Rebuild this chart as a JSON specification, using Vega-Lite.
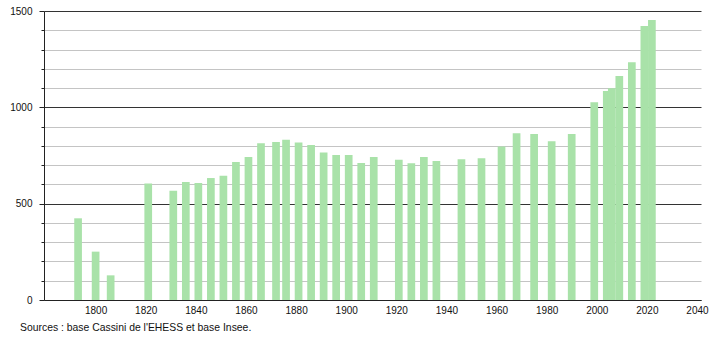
{
  "$schema": "https://vega.github.io/schema/vega-lite/v6.json",
  "width": 657,
  "height": 289,
  "autosize": {"type": "none"},
  "padding": {"left": 44, "top": 11, "right": 9, "bottom": 40},
  "background": "white",
  "config": {
    "view": {"stroke": null},
    "font": "Liberation Sans"
  },
  "title": {
    "text": "Sources : base Cassini de l'EHESS et base Insee.",
    "orient": "bottom",
    "anchor": "start",
    "frame": "group",
    "dx": -24,
    "offset": 8,
    "fontSize": 10.4,
    "fontWeight": "normal",
    "color": "#111",
    "font": "Liberation Sans"
  },
  "data": {
    "values": [
      {"year": 1793, "pop": 424},
      {"year": 1800, "pop": 251},
      {"year": 1806, "pop": 128},
      {"year": 1821, "pop": 605},
      {"year": 1831, "pop": 567},
      {"year": 1836, "pop": 612},
      {"year": 1841, "pop": 607},
      {"year": 1846, "pop": 633},
      {"year": 1851, "pop": 645},
      {"year": 1856, "pop": 716},
      {"year": 1861, "pop": 742},
      {"year": 1866, "pop": 813},
      {"year": 1872, "pop": 820},
      {"year": 1876, "pop": 832},
      {"year": 1881, "pop": 818},
      {"year": 1886, "pop": 804},
      {"year": 1891, "pop": 765},
      {"year": 1896, "pop": 753},
      {"year": 1901, "pop": 753},
      {"year": 1906, "pop": 711},
      {"year": 1911, "pop": 742},
      {"year": 1921, "pop": 728},
      {"year": 1926, "pop": 710},
      {"year": 1931, "pop": 742},
      {"year": 1936, "pop": 721},
      {"year": 1946, "pop": 730},
      {"year": 1954, "pop": 736},
      {"year": 1962, "pop": 797},
      {"year": 1968, "pop": 865},
      {"year": 1975, "pop": 861},
      {"year": 1982, "pop": 824},
      {"year": 1990, "pop": 861},
      {"year": 1999, "pop": 1027},
      {"year": 2004, "pop": 1085},
      {"year": 2006, "pop": 1099},
      {"year": 2009, "pop": 1163},
      {"year": 2014, "pop": 1234},
      {"year": 2019, "pop": 1422},
      {"year": 2022, "pop": 1453}
    ]
  },
  "mark": {"type": "bar", "size": 7.7, "color": "#a9e2a9"},
  "encoding": {
    "x": {
      "field": "year",
      "type": "quantitative",
      "scale": {"domain": [1779.4, 2041.6], "nice": false, "zero": false, "padding": 0},
      "axis": {
        "title": null,
        "values": [1800, 1820, 1840, 1860, 1880, 1900, 1920, 1940, 1960, 1980, 2000, 2020, 2040],
        "format": "d",
        "ticks": false,
        "grid": false,
        "domainColor": "#222",
        "domainWidth": 1,
        "labelFontSize": 10,
        "labelColor": "#111",
        "labelPadding": 5,
        "labelFlush": false,
        "labelOverlap": false
      }
    },
    "y": {
      "field": "pop",
      "type": "quantitative",
      "scale": {"domain": [0, 1500], "nice": false},
      "axis": {
        "title": null,
        "values": [0, 100, 200, 300, 400, 500, 600, 700, 800, 900, 1000, 1100, 1200, 1300, 1400, 1500],
        "labelExpr": "datum.value % 500 === 0 ? datum.label : ''",
        "format": "d",
        "grid": true,
        "gridColor": {"condition": {"test": "datum.value % 500 === 0", "value": "#333"}, "value": "#c4c4c4"},
        "gridWidth": 1,
        "tickColor": "#222",
        "tickSize": {"condition": {"test": "datum.value % 500 === 0", "value": 5}, "value": 3},
        "domainColor": "#222",
        "labelFontSize": 10,
        "labelColor": "#111",
        "labelPadding": 7,
        "labelFlush": false,
        "labelOverlap": false
      }
    }
  }
}
